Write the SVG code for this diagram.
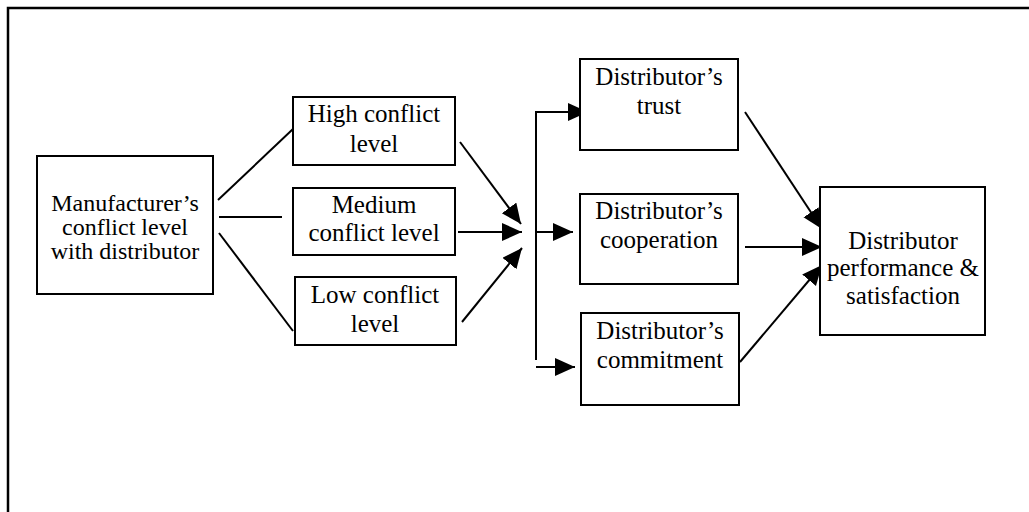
<svg xmlns="http://www.w3.org/2000/svg" width="1029" height="512" viewBox="0 0 1029 512">
<style>
.box{fill:#fff;stroke:#000;stroke-width:2}
.t{font-family:'Liberation Serif','DejaVu Serif','Times New Roman',Times,serif;font-size:25px;fill:#000;text-anchor:middle}
.m{font-size:24px}
.c{fill:none;stroke:#000;stroke-width:2}
.frame{fill:none;stroke:#000;stroke-width:2.5}
</style>
<defs>
<marker id="ah" markerUnits="userSpaceOnUse" markerWidth="22" markerHeight="20" refX="20" refY="9" orient="auto">
<path d="M0,0 L20,9 L0,18 z" fill="#000"/>
</marker>
</defs>
<path class="frame" d="M8,520 L8,8 L1035,8"/>
<g id="connectors">
<line class="c" x1="218" y1="200" x2="293" y2="129"/>
<line class="c" x1="219" y1="217" x2="282" y2="217"/>
<line class="c" x1="219" y1="233" x2="293" y2="331"/>
<line class="c" x1="460" y1="142" x2="521" y2="224" marker-end="url(#ah)"/>
<line class="c" x1="458" y1="232" x2="522" y2="232" marker-end="url(#ah)"/>
<line class="c" x1="462" y1="322" x2="522" y2="248" marker-end="url(#ah)"/>
<path class="c" d="M536,360 L536,112 L588,112" marker-end="url(#ah)"/>
<line class="c" x1="536" y1="232" x2="573" y2="232" marker-end="url(#ah)"/>
<line class="c" x1="536" y1="367" x2="575" y2="367" marker-end="url(#ah)"/>
<line class="c" x1="745" y1="112" x2="822" y2="229" marker-end="url(#ah)"/>
<line class="c" x1="745" y1="247" x2="822" y2="247" marker-end="url(#ah)"/>
<line class="c" x1="740" y1="362" x2="822" y2="265" marker-end="url(#ah)"/>
</g>
<g id="manufacturer">
<rect class="box" x="37" y="156" width="176" height="138"/>
<text class="t m" x="125" y="211" font-family="Liberation Serif, serif">Manufacturer’s</text>
<text class="t m" x="125" y="235" font-family="Liberation Serif, serif">conflict level</text>
<text class="t m" x="125" y="259" font-family="Liberation Serif, serif">with distributor</text>
</g>
<g id="high">
<rect class="box" x="293" y="97" width="162" height="68"/>
<text class="t" x="374" y="122">High conflict</text>
<text class="t" x="374" y="152">level</text>
</g>
<g id="medium">
<rect class="box" x="293" y="188" width="162" height="67"/>
<text class="t" x="374" y="213">Medium</text>
<text class="t" x="374" y="241">conflict level</text>
</g>
<g id="low">
<rect class="box" x="295" y="277" width="161" height="68"/>
<text class="t" x="375" y="303">Low conflict</text>
<text class="t" x="375" y="332">level</text>
</g>
<g id="trust">
<rect class="box" x="580" y="59" width="158" height="91"/>
<text class="t" x="659" y="85">Distributor’s</text>
<text class="t" x="659" y="114">trust</text>
</g>
<g id="cooperation">
<rect class="box" x="580" y="194" width="158" height="90"/>
<text class="t" x="659" y="219">Distributor’s</text>
<text class="t" x="659" y="248">cooperation</text>
</g>
<g id="commitment">
<rect class="box" x="581" y="313" width="158" height="92"/>
<text class="t" x="660" y="339">Distributor’s</text>
<text class="t" x="660" y="368">commitment</text>
</g>
<g id="performance">
<rect class="box" x="820" y="187" width="165" height="148"/>
<text class="t" x="903" y="249">Distributor</text>
<text class="t" x="903" y="276">performance &amp;</text>
<text class="t" x="903" y="304">satisfaction</text>
</g>
</svg>
